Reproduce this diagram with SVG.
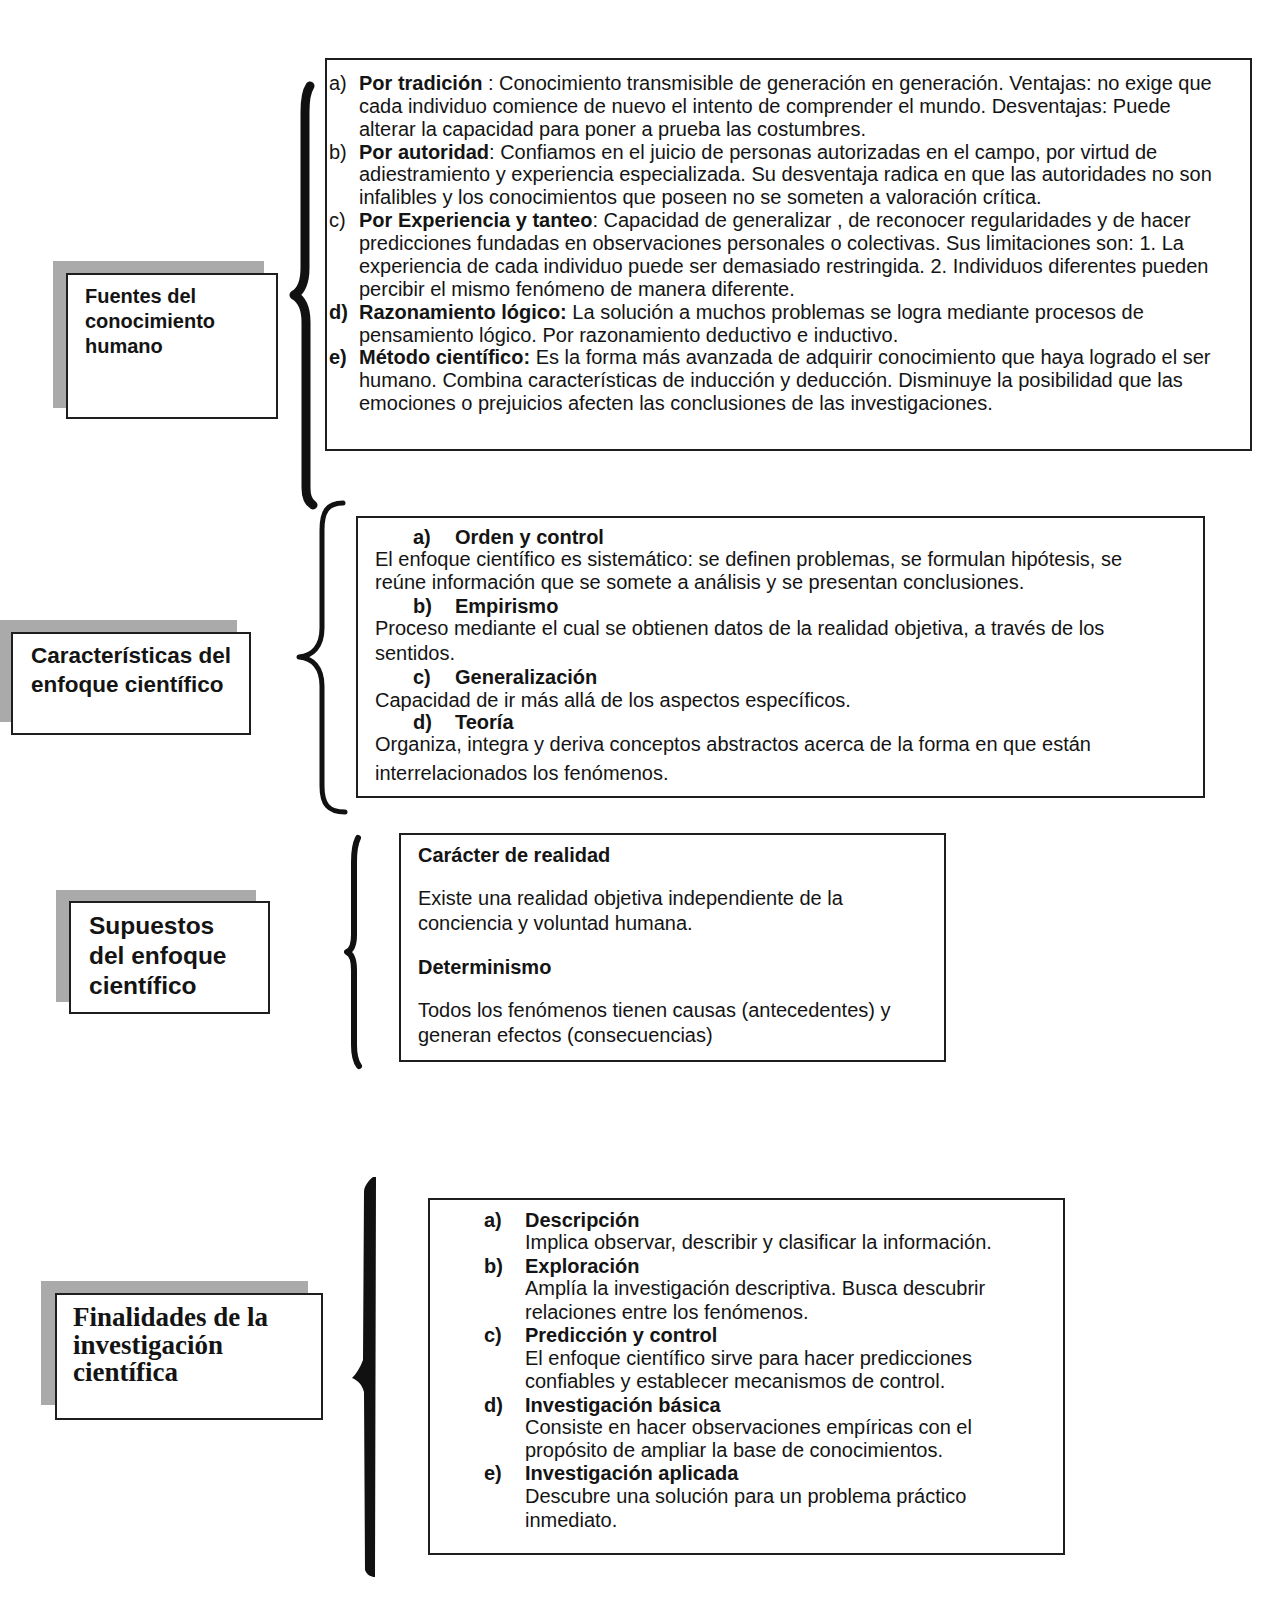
<svg xmlns="http://www.w3.org/2000/svg" width="1280" height="1600" viewBox="0 0 1280 1600">
<style>
  .bg { fill: #ffffff; }
  .shadow { fill: #aaaaaa; }
  .box { fill: #ffffff; stroke: #1e1e1e; stroke-width: 2; }
  .t { font-family: "Liberation Sans", Arial, sans-serif; fill: #141414; }
  .b { font-weight: bold; }
  .serif { font-family: "Liberation Serif", "Times New Roman", serif; font-weight: bold; fill: #141414; }
  .brace { fill: none; stroke: #111111; stroke-linecap: round; stroke-linejoin: round; }
  .s20 { font-size: 20px; }
</style>
<rect class="bg" x="0" y="0" width="1280" height="1600"/>

<!-- Section 1 -->
<g id="node-fuentes">
  <rect class="shadow" x="53" y="261" width="211" height="147"/>
  <rect class="box" x="67" y="274" width="210" height="144"/>
  <text class="t b" font-size="20" x="85" y="303">Fuentes del</text>
  <text class="t b" font-size="20" x="85" y="328">conocimiento</text>
  <text class="t b" font-size="20" x="85" y="353">humano</text>
</g>
<g id="node-fuentes-detalle">
  <rect class="box" x="326" y="59" width="925" height="391"/>
  <g class="t s20">
    <text x="329" y="90">a)</text>
    <text x="359" y="90"><tspan class="b">Por tradición</tspan> : Conocimiento transmisible de generación en generación. Ventajas: no exige que</text>
    <text x="359" y="112.9">cada individuo comience de nuevo el intento de comprender el mundo. Desventajas: Puede</text>
    <text x="359" y="135.7">alterar la capacidad para poner a prueba las costumbres.</text>
    <text x="329" y="158.6">b)</text>
    <text x="359" y="158.6"><tspan class="b">Por autoridad</tspan>: Confiamos en el juicio de personas autorizadas en el campo, por virtud de</text>
    <text x="359" y="181.4">adiestramiento y experiencia especializada. Su desventaja radica en que las autoridades no son</text>
    <text x="359" y="204.3">infalibles y los conocimientos que poseen no se someten a valoración crítica.</text>
    <text x="329" y="227.2">c)</text>
    <text x="359" y="227.2"><tspan class="b">Por Experiencia y tanteo</tspan>: Capacidad de generalizar , de reconocer regularidades y de hacer</text>
    <text x="359" y="250">predicciones fundadas en observaciones personales o colectivas. Sus limitaciones son: 1. La</text>
    <text x="359" y="272.9">experiencia de cada individuo puede ser demasiado restringida. 2. Individuos diferentes pueden</text>
    <text x="359" y="295.7">percibir el mismo fenómeno de manera diferente.</text>
    <text class="b" x="329" y="318.6">d)</text>
    <text x="359" y="318.6"><tspan class="b">Razonamiento lógico:</tspan> La solución a muchos problemas se logra mediante procesos de</text>
    <text x="359" y="341.5">pensamiento lógico. Por razonamiento deductivo e inductivo.</text>
    <text class="b" x="329" y="364.3">e)</text>
    <text x="359" y="364.3"><tspan class="b">Método científico:</tspan> Es la forma más avanzada de adquirir conocimiento que haya logrado el ser</text>
    <text x="359" y="387.2">humano. Combina características de inducción y deducción. Disminuye la posibilidad que las</text>
    <text x="359" y="410">emociones o prejuicios afecten las conclusiones de las investigaciones.</text>
  </g>
</g>

<!-- Section 2 -->
<g id="node-caracteristicas">
  <rect class="shadow" x="0" y="620" width="237" height="102"/>
  <rect class="box" x="12" y="633" width="238" height="101"/>
  <text class="t b" font-size="22.5" x="31" y="663">Características del</text>
  <text class="t b" font-size="22.5" x="31" y="692">enfoque científico</text>
</g>
<g id="node-caracteristicas-detalle">
  <rect class="box" x="357" y="517" width="847" height="280"/>
  <g class="t s20">
    <text class="b" x="413" y="544">a)</text>
    <text class="b" x="455" y="544">Orden y control</text>
    <text x="375" y="566">El enfoque científico es sistemático: se definen problemas, se formulan hipótesis, se</text>
    <text x="375" y="589">reúne información que se somete a análisis y se presentan conclusiones.</text>
    <text class="b" x="413" y="613">b)</text>
    <text class="b" x="455" y="613">Empirismo</text>
    <text x="375" y="635">Proceso mediante el cual se obtienen datos de la realidad objetiva, a través de los</text>
    <text x="375" y="660">sentidos.</text>
    <text class="b" x="413" y="684">c)</text>
    <text class="b" x="455" y="684">Generalización</text>
    <text x="375" y="707">Capacidad de ir más allá de los aspectos específicos.</text>
    <text class="b" x="413" y="729">d)</text>
    <text class="b" x="455" y="729">Teoría</text>
    <text x="375" y="751">Organiza, integra y deriva conceptos abstractos acerca de la forma en que están</text>
    <text x="375" y="780">interrelacionados los fenómenos.</text>
  </g>
</g>

<!-- Section 3 -->
<g id="node-supuestos">
  <rect class="shadow" x="56" y="890" width="200" height="112"/>
  <rect class="box" x="70" y="902" width="199" height="111"/>
  <text class="t b" font-size="24.5" x="89" y="934">Supuestos</text>
  <text class="t b" font-size="24.5" x="89" y="964">del enfoque</text>
  <text class="t b" font-size="24.5" x="89" y="994">científico</text>
</g>
<g id="node-supuestos-detalle">
  <rect class="box" x="400" y="834" width="545" height="227"/>
  <g class="t s20">
    <text class="b" x="418" y="862">Carácter de realidad</text>
    <text x="418" y="905">Existe una realidad objetiva independiente de la</text>
    <text x="418" y="930">conciencia y voluntad humana.</text>
    <text class="b" x="418" y="974">Determinismo</text>
    <text x="418" y="1017">Todos los fenómenos tienen causas (antecedentes) y</text>
    <text x="418" y="1042">generan efectos (consecuencias)</text>
  </g>
</g>

<!-- Section 4 -->
<g id="node-finalidades">
  <rect class="shadow" x="41" y="1281" width="267" height="124"/>
  <rect class="box" x="56" y="1294" width="266" height="125"/>
  <text class="serif" font-size="27" x="73" y="1326">Finalidades de la</text>
  <text class="serif" font-size="27" x="73" y="1354">investigación</text>
  <text class="serif" font-size="27" x="73" y="1381">científica</text>
</g>
<g id="node-finalidades-detalle">
  <rect class="box" x="429" y="1199" width="635" height="355"/>
  <g class="t s20">
    <text class="b" x="484" y="1227">a)</text>
    <text class="b" x="525" y="1227">Descripción</text>
    <text x="525" y="1249">Implica observar, describir y clasificar la información.</text>
    <text class="b" x="484" y="1273">b)</text>
    <text class="b" x="525" y="1273">Exploración</text>
    <text x="525" y="1295">Amplía la investigación descriptiva. Busca descubrir</text>
    <text x="525" y="1319">relaciones entre los fenómenos.</text>
    <text class="b" x="484" y="1342">c)</text>
    <text class="b" x="525" y="1342">Predicción y control</text>
    <text x="525" y="1365">El enfoque científico sirve para hacer predicciones</text>
    <text x="525" y="1388">confiables y establecer mecanismos de control.</text>
    <text class="b" x="484" y="1412">d)</text>
    <text class="b" x="525" y="1412">Investigación básica</text>
    <text x="525" y="1434">Consiste en hacer observaciones empíricas con el</text>
    <text x="525" y="1457">propósito de ampliar la base de conocimientos.</text>
    <text class="b" x="484" y="1480">e)</text>
    <text class="b" x="525" y="1480">Investigación aplicada</text>
    <text x="525" y="1503">Descubre una solución para un problema práctico</text>
    <text x="525" y="1527">inmediato.</text>
  </g>
</g>

<!-- Connectors (braces) -->
<g id="connectors">
  <path class="brace" stroke-width="9" d="M 310 86 C 306 92, 305 100, 305 112 L 305 268 C 305 283, 301 291, 294 295 C 301 299, 306 308, 306 322 L 306 488 C 306 497, 308 502, 313 505"/>
  <path class="brace" stroke-width="5" d="M 343 503 C 327 503, 322 512, 322 530 L 322 628 C 322 646, 313 656, 299 657 C 313 658, 322 668, 322 686 L 322 786 C 322 804, 328 812, 345 812"/>
  <path class="brace" stroke-width="6" d="M 358 838 C 355 844, 354 852, 354 862 L 354 935 C 354 945, 352 950, 347 952 C 352 954, 354 960, 354 970 L 354 1045 C 354 1055, 356 1062, 359 1066"/>
  <path fill="#111111" stroke="none" d="M 373 1177 C 369 1180, 364 1186, 364 1192 L 363 1360 C 360 1368, 356 1374, 352 1378 C 357 1380, 362 1384, 364 1392 L 365 1570 C 367 1575, 371 1577, 375 1577 L 376 1177 Z"/>
</g>
</svg>
